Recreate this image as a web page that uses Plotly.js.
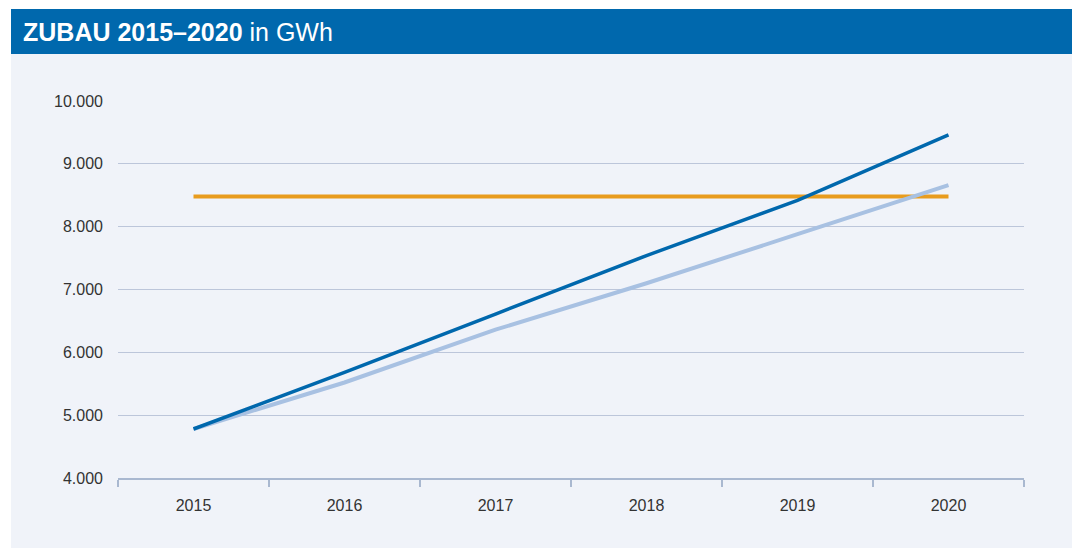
<!DOCTYPE html>
<html>
<head>
<meta charset="utf-8">
<script src="https://cdn.plot.ly/plotly-3.0.1.min.js"></script>
<style>html,body{margin:0;padding:0;background:#fff;}#chart{width:1072px;height:549px;}</style>
</head>
<body>
<div id="chart"></div>
<script>
const years = ['2015','2016','2017','2018','2019','2020'];
const seriesDark = [4780, 5680, 6610, 7540, 8420, 9460];
const seriesLight = [4780, 5520, 6360, 7100, 7880, 8660];
const seriesOrange = [8480, 8480, 8480, 8480, 8480, 8480];
const yTicks = [4000, 5000, 6000, 7000, 8000, 9000, 10000];

const L = 118, R = 1024, T = 101, B = 478, W = 1072, H = 549;
const px = x => (x - L) / (R - L);
const py = y => (B - y) / (B - T);

const traces = [
  {x: years, y: seriesOrange, type: 'scatter', mode: 'lines', line: {color: '#E89C1E', width: 4}, hoverinfo: 'skip'},
  {x: years, y: seriesLight, type: 'scatter', mode: 'lines', line: {color: '#A8C1E2', width: 4}, hoverinfo: 'skip'},
  {x: years, y: seriesDark, type: 'scatter', mode: 'lines', line: {color: '#0068AD', width: 3.5}, hoverinfo: 'skip'}
];

const layout = {
  width: W, height: H,
  margin: {l: L, r: W - R, t: T, b: H - B, pad: 0},
  paper_bgcolor: '#ffffff',
  plot_bgcolor: 'rgba(0,0,0,0)',
  showlegend: false,
  separators: ',.',
  font: {family: 'Liberation Sans, Arial, sans-serif', color: '#333333', size: 16},
  xaxis: {
    type: 'category', range: [-0.5, 5.5], fixedrange: true,
    showgrid: false, zeroline: false,
    showline: true, linecolor: '#A9B8D0', linewidth: 1.5,
    ticks: 'outside', tickson: 'boundaries', ticklen: 7, tickcolor: '#A9B8D0', tickwidth: 1.5,
    ticklabelstandoff: 12,
    tickfont: {size: 16, color: '#333333'}
  },
  yaxis: {
    range: [4000, 10000], tickvals: yTicks, tickformat: ',.0f', fixedrange: true,
    showgrid: true, gridcolor: '#BCC6DA', gridwidth: 1.3,
    zeroline: false, showline: false, ticks: '',
    ticklabelstandoff: 14,
    tickfont: {size: 16, color: '#333333'}
  },
  shapes: [
    {type: 'rect', xref: 'paper', yref: 'paper', x0: px(11), x1: px(1072), y0: py(548), y1: py(54), fillcolor: '#F0F3F9', line: {width: 0}, layer: 'below'},
    {type: 'rect', xref: 'paper', yref: 'paper', x0: px(11), x1: px(1072), y0: py(54), y1: py(9), fillcolor: '#0068AD', line: {width: 0}, layer: 'below'}
  ],
  annotations: [
    {xref: 'paper', yref: 'paper', x: px(21), y: py(32), xanchor: 'left', yanchor: 'middle', showarrow: false,
     text: '<b>ZUBAU 2015–2020</b> in GWh', font: {family: 'Liberation Sans, Arial, sans-serif', size: 25, color: '#ffffff'}}
  ]
};

Plotly.newPlot('chart', traces, layout, {displayModeBar: false, staticPlot: true});
</script>
</body>
</html>
